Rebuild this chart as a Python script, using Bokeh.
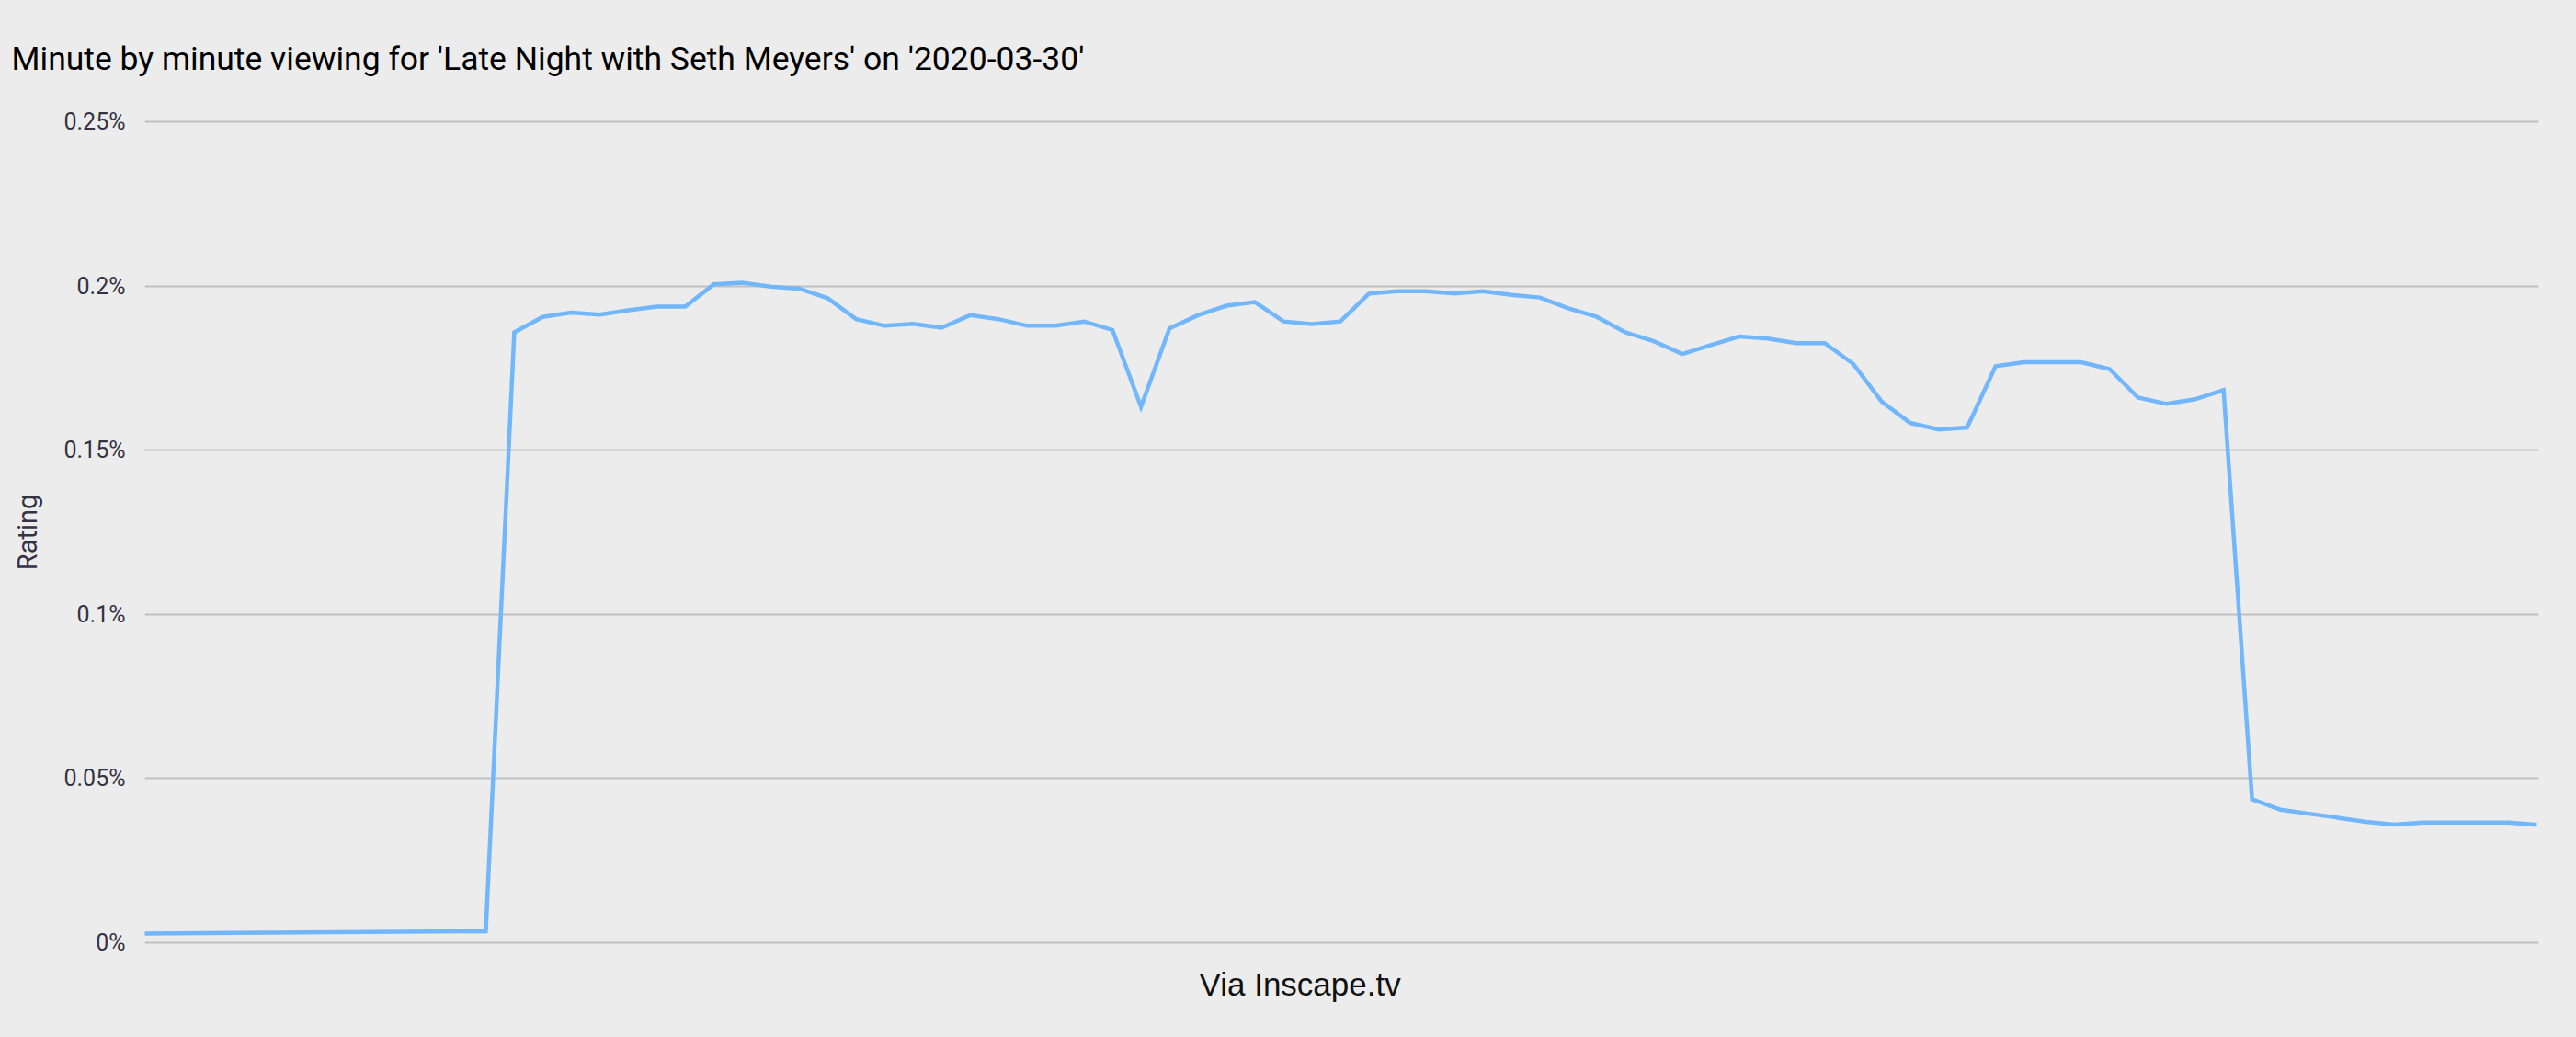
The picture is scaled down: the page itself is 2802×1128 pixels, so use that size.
from bokeh.plotting import figure
from bokeh.models import Range1d, FixedTicker, Title
from bokeh.embed import file_html
from bokeh.resources import INLINE

# ---- data (minutes since start, rating in %) ----
minutes = [0, 12] + list(range(13, 85))
rating = [
    0.0028, 0.0035,
    0.1859, 0.1906, 0.1919, 0.1913, 0.1926, 0.1937, 0.1937, 0.2005, 0.2010, 0.1998,
    0.1992, 0.1963, 0.1899, 0.1879, 0.1885, 0.1873, 0.1911, 0.1899, 0.1879, 0.1879,
    0.1892, 0.1866, 0.1632, 0.1871, 0.1911, 0.1940, 0.1951, 0.1892, 0.1884, 0.1892,
    0.1977, 0.1984, 0.1984, 0.1977, 0.1984, 0.1973, 0.1965, 0.1932, 0.1906, 0.1859,
    0.1832, 0.1793, 0.1820, 0.1846, 0.1840, 0.1826, 0.1826, 0.1763, 0.1648, 0.1583,
    0.1563, 0.1569, 0.1756, 0.1768, 0.1768, 0.1768, 0.1747, 0.1660, 0.1641, 0.1655,
    0.1683, 0.0437, 0.0405, 0.0393, 0.0381, 0.0368, 0.0360, 0.0366, 0.0366, 0.0366,
    0.0366, 0.0359,
]
y_ticks = [0, 0.05, 0.1, 0.15, 0.2, 0.25]
y_tick_labels = ["0%", "0.05%", "0.1%", "0.15%", "0.2%", "0.25%"]

title_text = "Minute by minute viewing for 'Late Night with Seth Meyers' on '2020-03-30'"
credit_text = "Via Inscape.tv"
y_label = "Rating"

BG = "#ececec"
LABEL_COLOR = "#333344"

p = figure(
    width=2786, height=1112,
    x_range=Range1d(0.03, 84.065),
    y_range=Range1d(-0.0028, 0.2528),
    output_backend="svg", toolbar_location=None,
    min_border_left=157, min_border_right=25,
    min_border_top=122, min_border_bottom=77,
)
p.background_fill_color = BG
p.border_fill_color = BG
p.outline_line_color = None

p.line(minutes, rating, line_color="#72b7fc", line_width=4.5, line_join="miter")

# title
p.title.text = title_text
p.title.text_font = "Roboto"
p.title.text_font_size = "35.5px"
p.title.text_font_style = "normal"
p.title.text_color = "#000000"
p.title.align = "left"
p.title.offset = -145
p.title.standoff = 75

# axes
p.xaxis.visible = False
p.xgrid.visible = False
p.ygrid.grid_line_color = "#c0c0c0"
p.ygrid.grid_line_width = 2

yax = p.yaxis[0]
yax.ticker = FixedTicker(ticks=y_ticks)
yax.major_label_overrides = {t: l for t, l in zip(y_ticks, y_tick_labels)}
yax.axis_line_color = None
yax.major_tick_line_color = None
yax.minor_tick_line_color = None
yax.major_label_text_font = "Roboto"
yax.major_label_text_font_size = "25px"
yax.major_label_text_color = LABEL_COLOR
yax.major_label_standoff = 15
yax.axis_label = y_label
yax.axis_label_text_font = "Roboto"
yax.axis_label_text_font_size = "29px"
yax.axis_label_text_font_style = "normal"
yax.axis_label_text_color = LABEL_COLOR
yax.axis_label_standoff = 19

credit = Title(text=credit_text, align="left", offset=1147,
               text_font="Liberation Sans", text_font_size="35px",
               text_font_style="normal", text_color="#111111", standoff=26)
p.add_layout(credit, "below")

html = file_html(p, INLINE)
html = html.replace("</head>", "<style>body{background:#ececec;}</style></head>", 1)
open("out.html", "w").write(html)
